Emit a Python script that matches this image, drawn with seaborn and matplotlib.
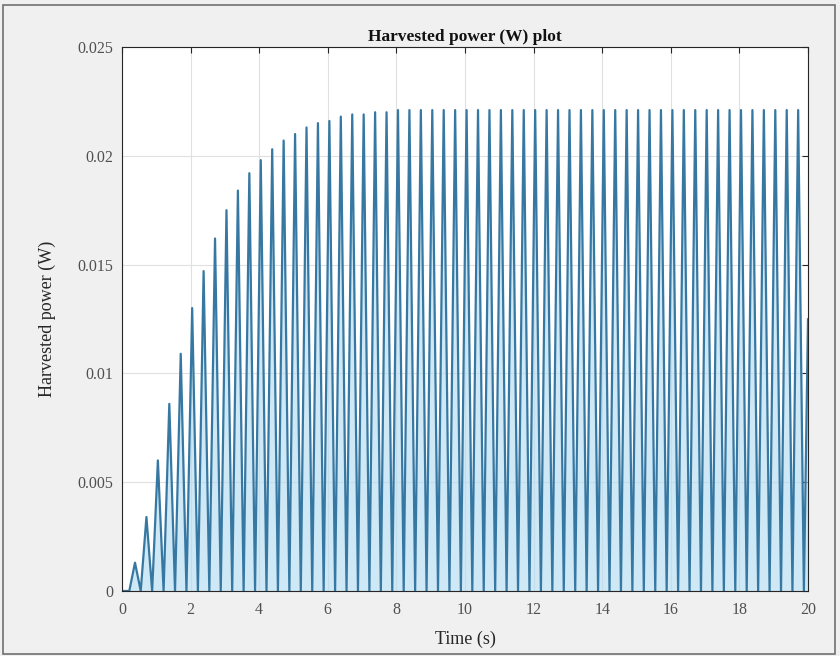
import numpy as np
import pandas as pd
import matplotlib
matplotlib.use('Agg')
import matplotlib.pyplot as plt
import seaborn as sns
from matplotlib.patches import Rectangle

# peak heights of each power pulse (W)
peak_power = [0.0013, 0.0034, 0.0060, 0.0086, 0.0109, 0.0130, 0.0147, 0.0162,
              0.0175, 0.0184, 0.0192, 0.0198, 0.0203, 0.0207, 0.0210, 0.0213,
              0.0215, 0.0216, 0.0218, 0.0219, 0.0219, 0.0220, 0.0220, 0.0221,
              0.0221, 0.0221, 0.0221, 0.0221, 0.0221, 0.0221, 0.0221, 0.0221,
              0.0221, 0.0221, 0.0221, 0.0221, 0.0221, 0.0221, 0.0221, 0.0221,
              0.0221, 0.0221, 0.0221, 0.0221, 0.0221, 0.0221, 0.0221, 0.0221,
              0.0221, 0.0221, 0.0221, 0.0221, 0.0221, 0.0221, 0.0221, 0.0221,
              0.0221, 0.0221, 0.0221]
first_peak_time = 0.38   # s
pulse_period = 1 / 3     # s
end_time = 20.0
end_power = 0.0125

x_ticks = [0, 2, 4, 6, 8, 10, 12, 14, 16, 18, 20]
y_ticks = [0, 0.005, 0.01, 0.015, 0.02, 0.025]
y_tick_labels = ['0', '0.005', '0.01', '0.015', '0.02', '0.025']

# build trough / peak / trough sequence
t = [0.0]
p = [0.0]
for k, pk in enumerate(peak_power):
    tp = first_peak_time + k * pulse_period
    t += [tp - pulse_period / 2, tp]
    p += [0.0, pk]
t += [t[-1] + pulse_period / 2, end_time]
p += [0.0, end_power]
df = pd.DataFrame({'Time (s)': t, 'Harvested power (W)': p})

sns.set_style('whitegrid')
plt.rcParams['font.family'] = ['Liberation Serif', 'DejaVu Serif']

fig = plt.figure(figsize=(8.4, 6.56), dpi=100, facecolor='#f0f0f0')
fig.patches.append(Rectangle((0.004, 0.003), 0.99, 0.99, transform=fig.transFigure,
                             fill=False, edgecolor='#707070', linewidth=1.2))
ax = fig.add_axes([0.1452, 0.0991, 0.8167, 0.8293])
ax.set_facecolor('white')

ax.fill_between(df['Time (s)'], df['Harvested power (W)'], color='#b5dcf0', alpha=0.65, linewidth=0)
sns.lineplot(data=df, x='Time (s)', y='Harvested power (W)', ax=ax, sort=False,
             estimator=None, color='#3778a3', linewidth=1.6)

ax.set_xlim(0, 20)
ax.set_ylim(0, 0.025)
ax.set_xticks(x_ticks)
ax.set_yticks(y_ticks)
ax.set_yticklabels(y_tick_labels)
ax.grid(True, color='#e0e0e0', linewidth=0.8)
ax.tick_params(direction='in', length=4, top=True, right=True, labelsize=11.5,
               colors='#262626', labelcolor='#505050')
ax.tick_params(axis='x', pad=8)
ax.tick_params(axis='y', pad=6)
for s in ax.spines.values():
    s.set_color('#262626')
    s.set_linewidth(0.8)

ax.set_title('Harvested power (W) plot', fontsize=12.5, fontweight='bold', color='#111111', pad=4)
ax.set_xlabel('Time (s)', fontsize=13, color='#262626', labelpad=9)
ax.set_ylabel('Harvested power (W)', fontsize=13, color='#262626', labelpad=16)

fig.savefig('out.png', dpi=100, facecolor=fig.get_facecolor())
